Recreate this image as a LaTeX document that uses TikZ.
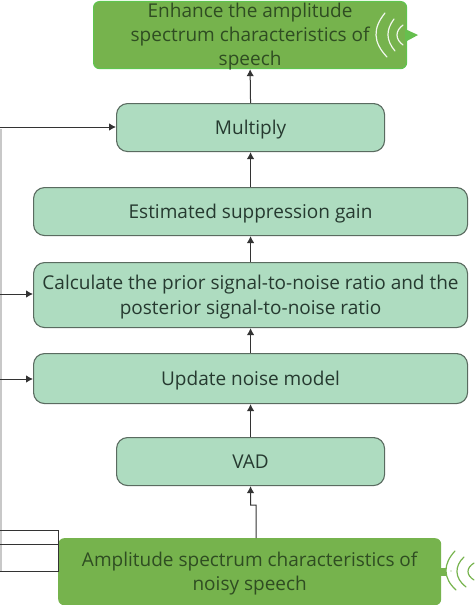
\documentclass[tikz,border=0pt]{standalone}
\usepackage{fontspec}
\setmainfont{Open Sans}
\usetikzlibrary{arrows.meta}
\definecolor{procfill}{HTML}{AEDCC0}
\definecolor{procline}{HTML}{5A6B60}
\definecolor{leaf}{HTML}{76B34D}
\definecolor{leafline}{HTML}{5FC44E}
\definecolor{ink}{HTML}{263A30}
\definecolor{leafink}{HTML}{2F4D22}
\definecolor{rail}{HTML}{C8C8C8}
\newcommand\lowered[1]{\raisebox{-2.2pt}[\height][\depth]{\begin{tabular}{@{}c@{}}#1\end{tabular}}}
\newcommand\flattened[1]{\raisebox{-6.3pt}[0pt][0pt]{\begin{tabular}{@{}c@{}}#1\end{tabular}}}
\tikzset{
  x=1pt,y=-1pt,
  proc/.style={draw=procline,line width=1.1pt,fill=procfill,rounded corners=11pt,text=ink,align=center,font=\fontsize{19}{24.5}\selectfont,inner sep=0pt,anchor=north west},
  leafbox/.style={fill=leaf,rounded corners=6pt,text=leafink,align=center,font=\fontsize{19}{24}\selectfont,inner sep=0pt,anchor=north west},
  link/.style={draw=black!80,line width=1pt,-{Latex[length=7pt,width=7.5pt]}},
  plain/.style={draw=black!80,line width=0.9pt},
  wave/.style={line width=1.2pt,line cap=round}
}
\begin{document}
\begin{tikzpicture}
\useasboundingbox (0,0) rectangle (474,605);
\fill[rail] (0,129) rectangle (2,572);
\node[leafbox,draw=leafline,line width=1.2pt,minimum width=313pt,minimum height=67pt] (enh) at (93,1) {\flattened{Enhance the amplitude\\spectrum characteristics of\\speech}};
\node[proc,minimum width=268pt,minimum height=48pt] (mul) at (116,103) {\lowered{Multiply}};
\node[proc,minimum width=434pt,minimum height=48pt] (est) at (33,187) {\lowered{Estimated suppression gain}};
\node[proc,minimum width=434pt,minimum height=65pt] (calc) at (33,262) {\lowered{Calculate the prior signal-to-noise ratio and the\\posterior signal-to-noise ratio}};
\node[proc,minimum width=434pt,minimum height=50pt] (upd) at (33,353) {\lowered{Update noise model}};
\node[proc,minimum width=268pt,minimum height=48pt] (vad) at (116,437) {\lowered{VAD}};
\node[leafbox,minimum width=383pt,minimum height=67pt] (amp) at (58,538) {\lowered{Amplitude spectrum characteristics of\\noisy speech}};
% connectors
\draw[link] (mul.north) -- (enh.south);
\draw[link] (est.north -| mul.north) -- (mul.south);
\draw[link] (calc.north -| mul.north) -- (est.south -| mul.north);
\draw[link] (upd.north -| mul.north) -- (calc.south -| mul.north);
\draw[link] (vad.north) -- (upd.south -| vad.north);
\coordinate (jog) at (256,505);
\draw[link] (amp.north -| jog) -- (jog) -- (250.5,505) -- (vad.south);
\coordinate (railA) at (0,127);
\coordinate (railB) at (0,294);
\coordinate (railC) at (0,379);
\coordinate (railD) at (0,530);
\coordinate (railE) at (0,544);
\coordinate (railF) at (0,571);
\draw[link] (railA) -- (mul.west |- railA);
\draw[link] (railB) -- (calc.west |- railB);
\draw[link] (railC) -- (upd.west |- railC);
\draw[plain] (railD) -- (58.5,530) -- (58.5,571) -- (railF);
\draw[plain] (railE) -- (58.5,544);
% sound marks
\fill[leafline!70!leaf] (405,29) -- (418,35) -- (405,42) -- cycle;
\draw[wave,white!90!leaf] (385,13) .. controls (372.7,28) and (372.7,42) .. (387,57);
\draw[wave,white!90!leaf] (394,19) .. controls (385.8,30) and (385.8,40) .. (395,51);
\draw[wave,white!90!leaf] (403,25) .. controls (395,31) and (395,39) .. (403,45);
\fill[leaf] (441,568) rectangle (446,576);
\fill[leaf] (451,571) circle (0.7);
\draw[wave,leaf] (455,551) .. controls (442.8,564) and (442.8,578) .. (456,590);
\draw[wave,leaf] (464,557) .. controls (454.3,566) and (454.3,578) .. (466,587);
\draw[wave,leaf] (474,563) .. controls (466,568) and (466,575) .. (474,580);
\end{tikzpicture}
\end{document}
